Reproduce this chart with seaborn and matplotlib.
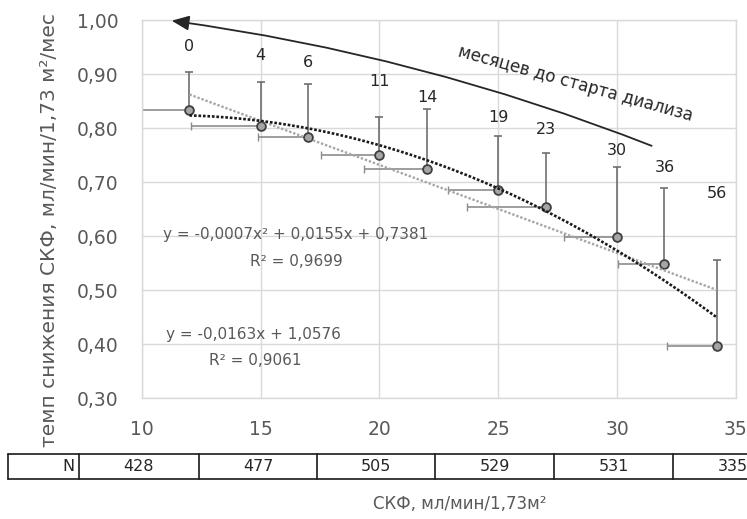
import numpy as np
import matplotlib
matplotlib.use("Agg")
import matplotlib.pyplot as plt
import seaborn as sns
from matplotlib.ticker import FuncFormatter, FixedLocator
from matplotlib.lines import Line2D

# ---------------- data ----------------
gfr = [12, 15, 17, 20, 22, 25, 27, 30, 32, 34.2]
rate = [0.833, 0.804, 0.784, 0.750, 0.725, 0.686, 0.654, 0.598, 0.549, 0.397]
rate_err_up = [0.071, 0.082, 0.097, 0.071, 0.111, 0.099, 0.100, 0.130, 0.139, 0.159]
gfr_err_left = [2.4, 2.93, 2.12, 2.46, 2.64, 2.10, 3.32, 2.22, 1.95, 2.09]
months = ["0", "4", "6", "11", "14", "19", "23", "30", "36", "56"]
month_label_y = [0.951, 0.935, 0.921, 0.886, 0.856, 0.820, 0.798, 0.758, 0.727, 0.678]
poly2_coef = [-0.0007, 0.0155, 0.7381]
lin_coef = [-0.0163, 1.0576]
poly2_text = ["y = -0,0007x² + 0,0155x + 0,7381", "R² = 0,9699"]
lin_text = ["y = -0,0163x + 1,0576", "R² = 0,9061"]
n_header = "N"
n_labels = ["428", "477", "505", "529", "531", "335"]
xticks = [10, 15, 20, 25, 30, 35]
yticks = [0.30, 0.40, 0.50, 0.60, 0.70, 0.80, 0.90, 1.00]
ylabel = "темп снижения СКФ, мл/мин/1,73 м²/мес"
xlabel = "СКФ, мл/мин/1,73м²"
arrow_text = "месяцев до старта диализа"

# ---------------- style ----------------
sns.set_theme(style="white")
plt.rcParams["font.family"] = ["DejaVu Sans"]

W, H = 747, 519
fig = plt.figure(figsize=(W / 100, H / 100), dpi=100)


def fx(px):
    return px / W


def fy(py):
    return 1 - py / H


ax_l, ax_r, ax_t, ax_b = 142, 735.7, 20, 398
ax = fig.add_axes([fx(ax_l), fy(ax_b), (ax_r - ax_l) / W, (ax_b - ax_t) / H])
ax.set_xlim(10, 35)
ax.set_ylim(0.30, 1.00)

grid_c = "#d9d9d9"
ax.xaxis.set_major_locator(FixedLocator(xticks))
ax.yaxis.set_major_locator(FixedLocator(yticks))
ax.grid(True, color=grid_c, lw=1.0)
for s in ax.spines.values():
    s.set_color(grid_c)
    s.set_linewidth(1.0)
ax.yaxis.set_major_formatter(FuncFormatter(lambda v, p: f"{v:.2f}".replace(".", ",")))
ax.xaxis.set_major_formatter(FuncFormatter(lambda v, p: f"{v:.0f}"))
ax.tick_params(axis="both", length=0, labelsize=13.5, colors="#595959")
ax.tick_params(axis="x", pad=16)
ax.tick_params(axis="y", pad=17)

# error bars (upward vertical, leftward horizontal)
ax.errorbar(gfr, rate, yerr=[np.zeros(len(rate)), rate_err_up], fmt="none",
            ecolor="#6f6f6f", elinewidth=1.2, capsize=3.2, capthick=1.2, zorder=2)
ax.errorbar(gfr, rate, xerr=[gfr_err_left, np.zeros(len(gfr))], fmt="none",
            ecolor="#8c8c8c", elinewidth=1.2, capsize=3.2, capthick=1.0, zorder=2)

# points
sns.scatterplot(x=gfr, y=rate, ax=ax, s=40, color="#a5a5a5",
                edgecolor="#3f3f3f", linewidth=1.3, zorder=4, legend=False)

# trend lines
xfit = np.linspace(min(gfr), max(gfr), 300)
ax.plot(xfit, np.polyval(lin_coef, xfit), color="#a6a6a6", lw=1.7,
        linestyle=(0, (1, 0.8)), zorder=5)
ax.plot(xfit, np.polyval(poly2_coef, xfit), color="#1a1a1a", lw=1.9,
        linestyle=(0, (1, 0.7)), zorder=6)

# month labels
for xv, yv, lab in zip(gfr, month_label_y, months):
    ax.text(xv, yv, lab, ha="center", va="center", fontsize=11.5, color="#262626")

# equations
ax.text(16.48, 0.602, poly2_text[0], ha="center", va="center", fontsize=11, color="#595959")
ax.text(16.52, 0.552, poly2_text[1], ha="center", va="center", fontsize=11, color="#595959")
ax.text(14.71, 0.417, lin_text[0], ha="center", va="center", fontsize=11, color="#595959")
ax.text(14.76, 0.370, lin_text[1], ha="center", va="center", fontsize=11, color="#595959")

# arrow
ax.annotate("", xy=(11.25, 0.9987), xytext=(31.46, 0.767), annotation_clip=False,
            arrowprops=dict(arrowstyle="-|>,head_length=0.7,head_width=0.3",
                            connectionstyle="arc3,rad=0.06", color="#262626",
                            lw=1.3, shrinkA=0, shrinkB=0, mutation_scale=15))
ax.text(28.25, 0.881, arrow_text, rotation=-15.5, rotation_mode="anchor",
        ha="center", va="center", fontsize=12, color="#262626")

# y label
fig.text(fx(50), fy(230), ylabel, rotation=90, ha="center", va="center",
         fontsize=14.5, color="#595959")

# N table
t_top, t_bot = 454, 479
borders = [8, 79, 199, 317, 435, 554, 673]
tc = "#1a1a1a"
fig.add_artist(Line2D([fx(8), fx(760)], [fy(t_top), fy(t_top)], color=tc, lw=1.2))
fig.add_artist(Line2D([fx(8), fx(760)], [fy(t_bot), fy(t_bot)], color=tc, lw=1.2))
for b in borders:
    fig.add_artist(Line2D([fx(b), fx(b)], [fy(t_top), fy(t_bot)], color=tc, lw=1.2))
yc = (t_top + t_bot) / 2
fig.text(fx(75), fy(yc), n_header, ha="right", va="center", fontsize=11.5, color="#262626")
cells = borders[1:] + [borders[-1] + 119]
for i, lab in enumerate(n_labels):
    cx = (cells[i] + cells[i + 1]) / 2
    fig.text(fx(cx), fy(yc), lab, ha="center", va="center", fontsize=11.5, color="#262626")

# x label
fig.text(fx(460), fy(504), xlabel, ha="center", va="center", fontsize=12, color="#595959")

fig.savefig("out.png", dpi=100)
